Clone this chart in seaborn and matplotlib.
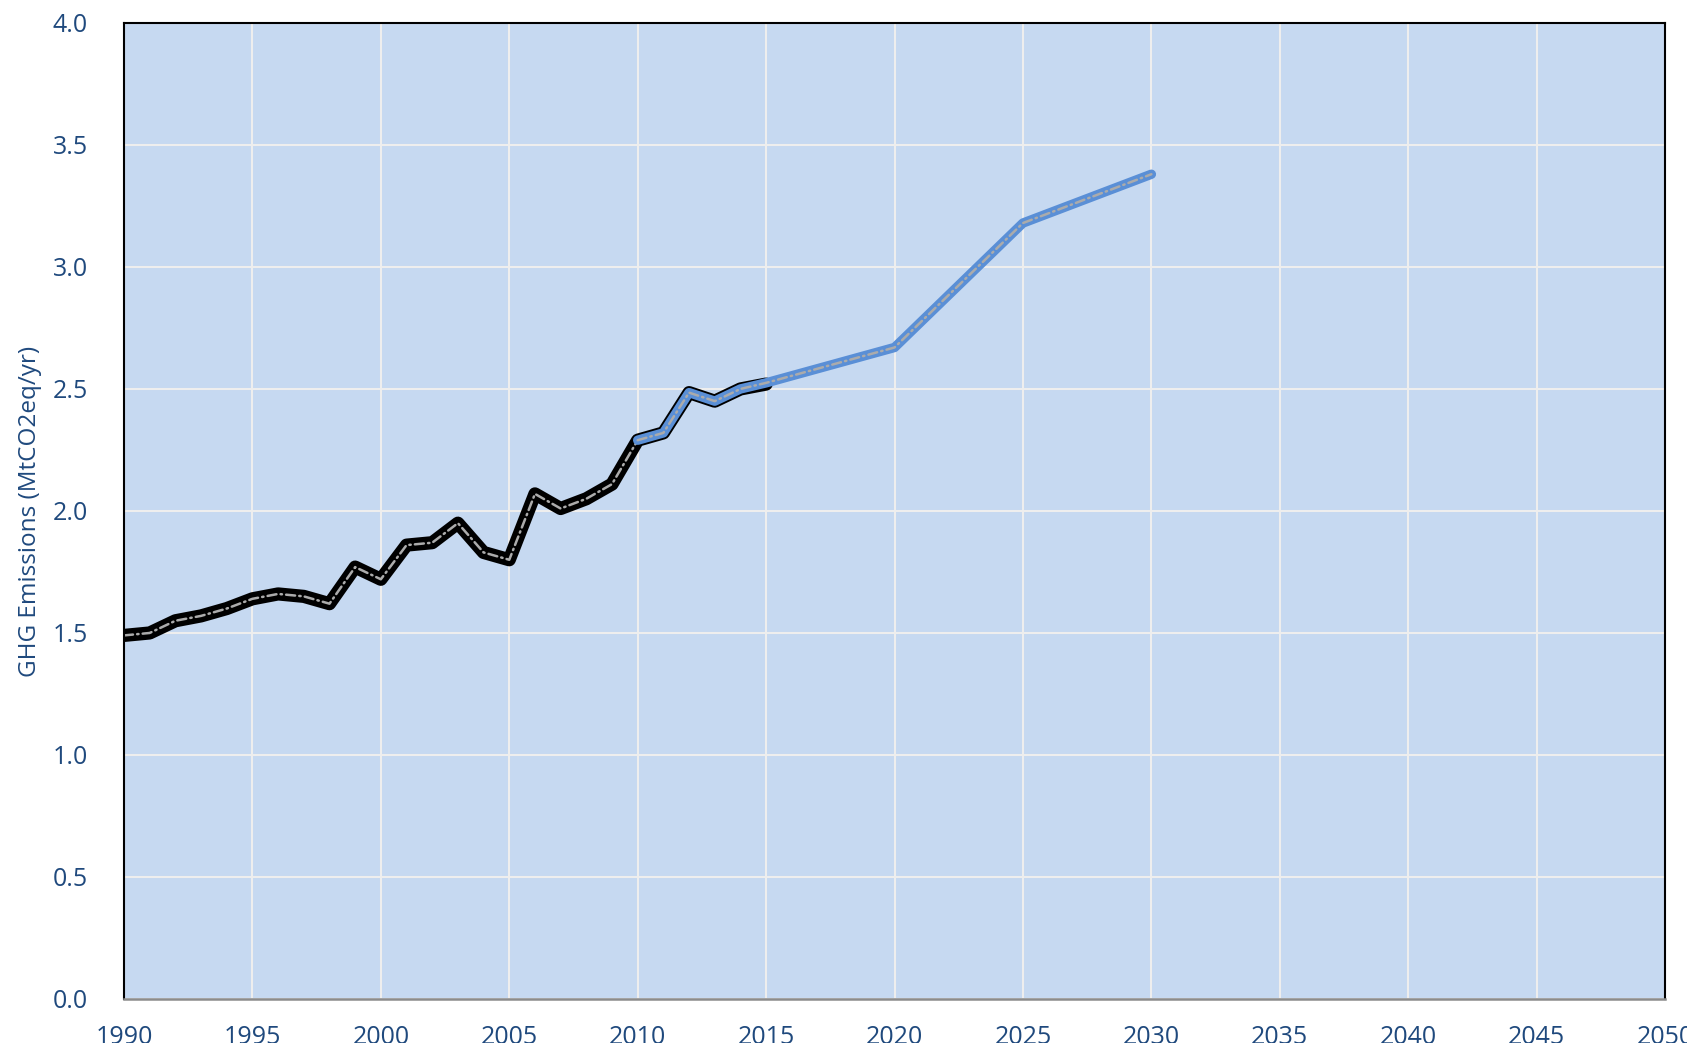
import matplotlib
matplotlib.use("Agg")
import matplotlib.pyplot as plt
import seaborn as sns
import pandas as pd
import numpy as np
from matplotlib.ticker import FormatStrFormatter

# ---- data ----
hist_years = list(range(1990, 2016))
hist_values = [1.49, 1.50, 1.55, 1.57, 1.60, 1.64, 1.66, 1.65, 1.62, 1.77,
               1.72, 1.86, 1.87, 1.95, 1.83, 1.80, 2.07, 2.01, 2.05, 2.11,
               2.29, 2.32, 2.485, 2.45, 2.50, 2.52]
proj_years = [2010, 2011, 2012, 2013, 2014, 2015, 2020, 2025, 2030]
proj_values = [2.29, 2.32, 2.485, 2.45, 2.50, 2.525, 2.67, 3.18, 3.38]
x_ticks = list(range(1990, 2051, 5))
y_ticks = [0.0, 0.5, 1.0, 1.5, 2.0, 2.5, 3.0, 3.5, 4.0]
y_label = "GHG Emissions (MtCO2eq/yr)"

hist = pd.DataFrame({"year": hist_years, "value": hist_values})
proj = pd.DataFrame({"year": proj_years, "value": proj_values})

sns.set_theme(style="white")
plt.rcParams["font.family"] = ["Open Sans", "DejaVu Sans"]
plt.rcParams["lines.scale_dashes"] = False

TEXT = "#1F497D"
BG = "#C6D9F1"
BLUE = "#5A8FD6"
GREY = "#ABABAB"
DASH = (0, (6.5, 3.0, 1.0, 3.0))

fig = plt.figure(figsize=(16.87, 10.43), dpi=100)
ax = fig.add_axes([0.0735, 0.0422, 0.9135, 0.9358])
ax.set_facecolor(BG)

common = dict(errorbar=None, ax=ax, legend=False)
sns.lineplot(data=hist, x="year", y="value", color="black", linewidth=9.5,
             solid_capstyle="round", solid_joinstyle="round", **common)
sns.lineplot(data=hist, x="year", y="value", color=GREY, linewidth=1.8,
             linestyle=DASH, dash_capstyle="round", **common)
sns.lineplot(data=proj, x="year", y="value", color=BLUE, linewidth=6.8,
             solid_capstyle="round", solid_joinstyle="round", **common)
sns.lineplot(data=proj, x="year", y="value", color=GREY, linewidth=1.8,
             linestyle=DASH, dash_capstyle="round", **common)

ax.set_xlim(1990, 2050)
ax.set_ylim(0, 4)
ax.set_xticks(x_ticks)
ax.set_yticks(y_ticks)
ax.yaxis.set_major_formatter(FormatStrFormatter("%.1f"))
ax.grid(True, color="#EEEEEE", linewidth=1.5)
ax.set_axisbelow(True)

for side in ["left", "top", "right"]:
    ax.spines[side].set_color("black")
    ax.spines[side].set_linewidth(1.5)
ax.spines["bottom"].set_color("#8C8C8C")
ax.spines["bottom"].set_linewidth(1.8)

ax.tick_params(axis="x", direction="inout", length=13, width=1.5,
               color="#8C8C8C", pad=12, labelsize=18, labelcolor=TEXT)
ax.tick_params(axis="y", length=0, pad=26, labelsize=18, labelcolor=TEXT)
ax.set_xlabel("")
ax.set_ylabel(y_label, fontsize=17.5, color=TEXT)
ax.yaxis.set_label_coords(-0.053, 0.5)

fig.savefig("out.png", dpi=100)
